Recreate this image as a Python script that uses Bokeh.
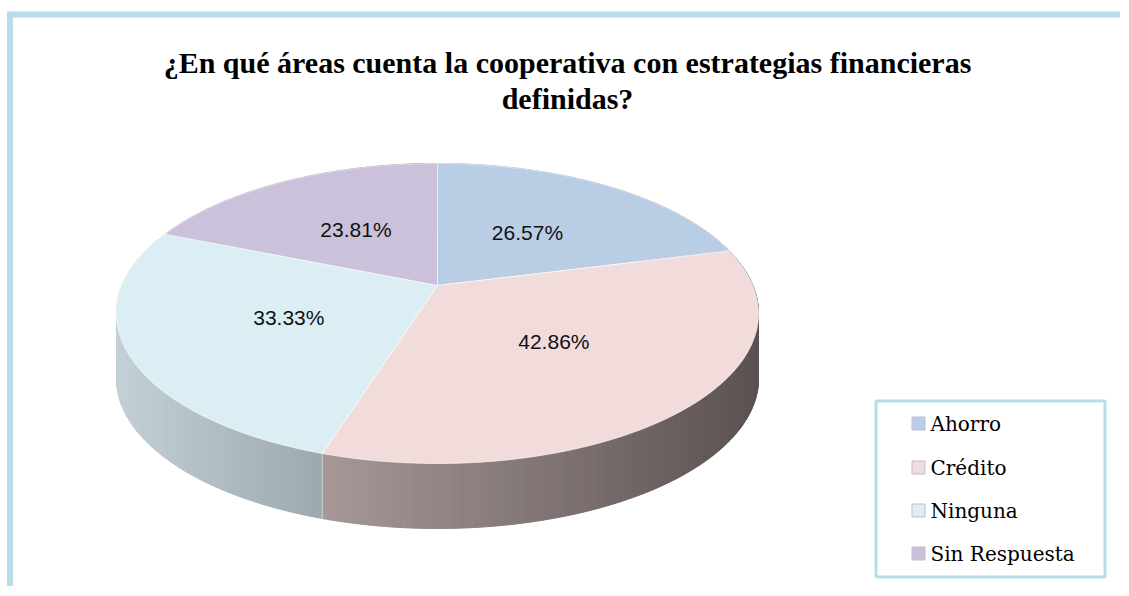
import numpy as np
from bokeh.plotting import figure
from bokeh.models import Range1d, ColumnDataSource
from bokeh.core.properties import value
from bokeh.embed import file_html
from bokeh.resources import INLINE

# ---- data ----
categories = ["Ahorro", "Crédito", "Ninguna", "Sin Respuesta"]
values = [26.57, 42.86, 33.33, 23.81]
title_lines = ["¿En qué áreas cuenta la cooperativa con estrategias financieras", "definidas?"]

# ---- styles ----
top_colors = ["#B9CDE5", "#F2DCDB", "#DBEEF4", "#CCC1DA"]
wall_left = ["#8FA3BC", "#A79898", "#C3D0D5", "#A89EB5"]
wall_right = ["#6E7E92", "#5B5151", "#9CA9AF", "#7F7690"]
BORDER = "#B7DDE8"

W, H = 1120, 586
CX, CY, RX, RY = 437.0, 313.0, 321.0, 150.0
BETA = 0.187
GAMMA = 1.0 / np.sqrt(1 - BETA ** 2)
DEPTH = 65.0


def proj(theta_deg, r=1.0):
    t = np.radians(theta_deg)
    sx = r * np.sin(t)
    sy = -r * np.cos(t)
    den = 1 - BETA * sy
    xp = sx / (GAMMA * den)
    yp = (sy - BETA) / den
    return CX + RX * xp, CY + RY * yp


def mix(c1, c2, t):
    a = [int(c1[i:i + 2], 16) for i in (1, 3, 5)]
    b = [int(c2[i:i + 2], 16) for i in (1, 3, 5)]
    return "#%02x%02x%02x" % tuple(int(round(a[k] + (b[k] - a[k]) * t)) for k in range(3))


p = figure(width=W, height=H, output_backend="svg", toolbar_location=None,
           x_range=Range1d(0, W), y_range=Range1d(H, 0),
           min_border=0)
p.axis.visible = False
p.grid.visible = False
p.outline_line_color = None
p.background_fill_color = "white"

# outer chart border (top and left visible)
p.line([7, W], [14, 14], line_color=BORDER, line_width=6)
p.line([9.5, 9.5], [11, H], line_color=BORDER, line_width=6)

total = float(sum(values))
starts, ends = [], []
acc = 0.0
for v in values:
    starts.append(acc / total * 360.0)
    acc += v
    ends.append(acc / total * 360.0)

# walls (gradient strips)
wx, wy, wc = [], [], []
for i in range(len(values)):
    th = np.linspace(starts[i], ends[i], max(int(ends[i] - starts[i]) * 2, 4))
    px, py = proj(th)
    xmin, xmax = px.min(), px.max()
    for k in range(len(th) - 1):
        xs = [px[k], px[k + 1], px[k + 1], px[k]]
        ys = [py[k], py[k + 1], py[k + 1] + DEPTH, py[k] + DEPTH]
        tt = ((px[k] + px[k + 1]) / 2 - xmin) / max(xmax - xmin, 1)
        wx.append(xs)
        wy.append(ys)
        wc.append(mix(wall_left[i], wall_right[i], tt))
p.patches(xs="xs", ys="ys", fill_color="c", line_color="c", line_width=1,
          source=ColumnDataSource(dict(xs=wx, ys=wy, c=wc)))

# seam lines on the wall at slice boundaries (front)
for i in range(len(values)):
    bx, by = proj(np.array([starts[i]]))
    if by[0] > CY - BETA * RY:
        p.line([bx[0], bx[0]], [by[0], by[0] + DEPTH], line_color="white", line_alpha=0.5, line_width=1)

# top faces
c0x, c0y = proj(np.array([0.0]), r=0.0)
tx, ty = [], []
for i in range(len(values)):
    th = np.linspace(starts[i], ends[i], 200)
    px, py = proj(th)
    tx.append([c0x[0]] + list(px))
    ty.append([c0y[0]] + list(py))
p.patches(xs="xs", ys="ys", fill_color="c", line_color="white", line_alpha=0.6, line_width=1,
          source=ColumnDataSource(dict(xs=tx, ys=ty, c=top_colors)))

# data labels
mids = [(s + e) / 2 for s, e in zip(starts, ends)]
lx, ly = proj(np.array(mids), r=0.5)
p.text(x=list(lx), y=list(ly), text=["%.2f%%" % v for v in values],
       text_align="center", text_baseline="middle", text_font=value("Liberation Sans"),
       text_font_size="21px", text_color="#111111")

# title
p.text(x=[567, 567], y=[62, 98], text=title_lines, text_align="center",
       text_baseline="alphabetic", text_font=value("Liberation Serif"),
       text_font_style="bold", text_font_size="30px", text_color="black")

# legend
p.quad(left=[875.5], right=[1104.5], top=[400.5], bottom=[576.5], fill_color="white",
       line_color=BORDER, line_width=3)
leg_y = [423, 467, 510, 553]
p.rect(x=[918] * 4, y=leg_y, width=13, height=13, fill_color=top_colors,
       line_color="#C5BAD4", line_width=1)
p.text(x=[930] * 4, y=leg_y, text=categories, text_align="left", text_baseline="middle",
       text_font=value("DejaVu Serif"), text_font_size="20px", text_color="black")

open("out.html", "w").write(file_html(p, INLINE))
